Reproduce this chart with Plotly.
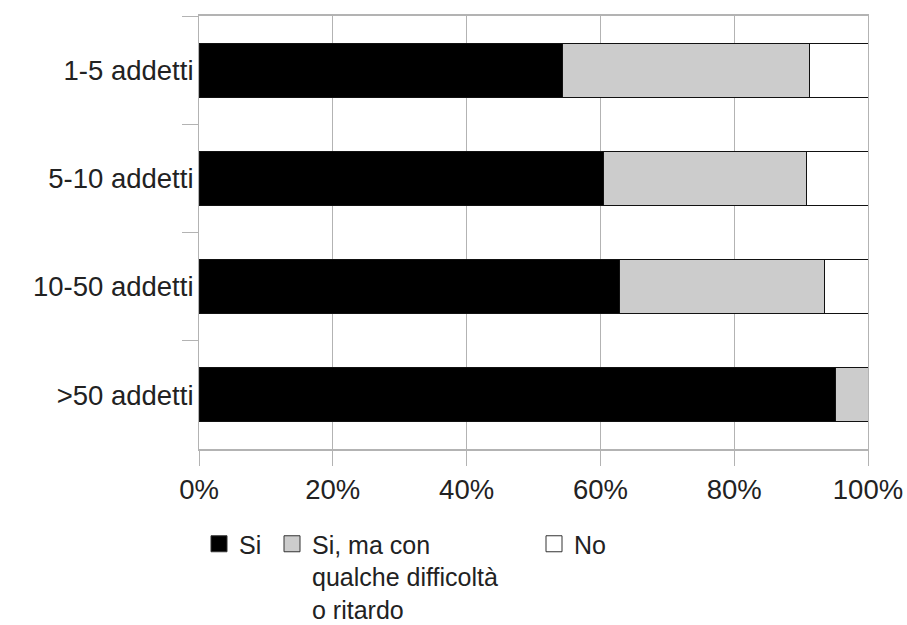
import plotly.graph_objects as go

categories = ["1-5 addetti", "5-10 addetti", "10-50 addetti", ">50 addetti"]
si = [54.3, 60.4, 62.8, 95.1]
si_difficolta = [36.9, 30.4, 30.7, 4.9]
no = [8.8, 9.2, 6.5, 0.0]
series_names = ["Si", "Si, ma con<br>qualche difficoltà<br>o ritardo", "No"]
series_colors = ["#000000", "#cccccc", "#ffffff"]
x_tickvals = [0, 20, 40, 60, 80, 100]
x_ticktext = ["0%", "20%", "40%", "60%", "80%", "100%"]

FONT = "Liberation Sans, Arial, sans-serif"
GRID = "#b3b3b3"

L, R, T, B = 199, 868, 16, 449
W, H = 907, 625
PH = B - T
PW = R - L

fig = go.Figure()
values = [si, si_difficolta, no]
legends = ["legend", "legend2", "legend3"]
for name, vals, col, lg in zip(series_names, values, series_colors, legends):
    fig.add_trace(go.Bar(
        y=categories, x=vals, orientation="h", name=name,
        marker=dict(color=col, line=dict(color="#111111", width=1)),
        width=0.5, showlegend=False,
    ))
    fig.add_trace(go.Scatter(
        x=[None], y=[None], mode="markers", name=name, legend=lg,
        marker=dict(symbol="square", size=16, color=col,
                    line=dict(color="#333333", width=1)),
        showlegend=True, hoverinfo="skip",
    ))

def lx(px):
    return (px - L) / PW

ly = (B - 521) / PH
leg_common = dict(y=ly, xanchor="left", yanchor="top", font=dict(size=25, color="#222222"),
                  valign="top", bgcolor="rgba(0,0,0,0)", borderwidth=0)

fig.update_layout(
    barmode="stack",
    width=W, height=H,
    margin=dict(l=L, r=W - R, t=T, b=H - B, autoexpand=False),
    plot_bgcolor="white", paper_bgcolor="white",
    font=dict(family=FONT, size=27.5, color="#222222"),
    legend=dict(x=lx(199), **leg_common),
    legend2=dict(x=lx(272), **leg_common),
    legend3=dict(x=lx(534), **leg_common),
)

fig.update_xaxes(
    range=[0, 100], tickvals=x_tickvals, ticktext=x_ticktext,
    showgrid=True, gridcolor=GRID, gridwidth=1,
    ticks="outside", ticklen=15, tickcolor=GRID, tickwidth=1,
    showline=True, linecolor=GRID, linewidth=2, mirror=True,
    zeroline=False, fixedrange=True,
)
fig.update_yaxes(
    categoryorder="array", categoryarray=categories, autorange="reversed",
    tickson="boundaries", ticks="outside", ticklen=16, tickcolor=GRID, tickwidth=1,
    showline=True, linecolor=GRID, linewidth=1, mirror=True,
    showgrid=False, ticklabelstandoff=-1,
)

fig.write_html("out.html")
